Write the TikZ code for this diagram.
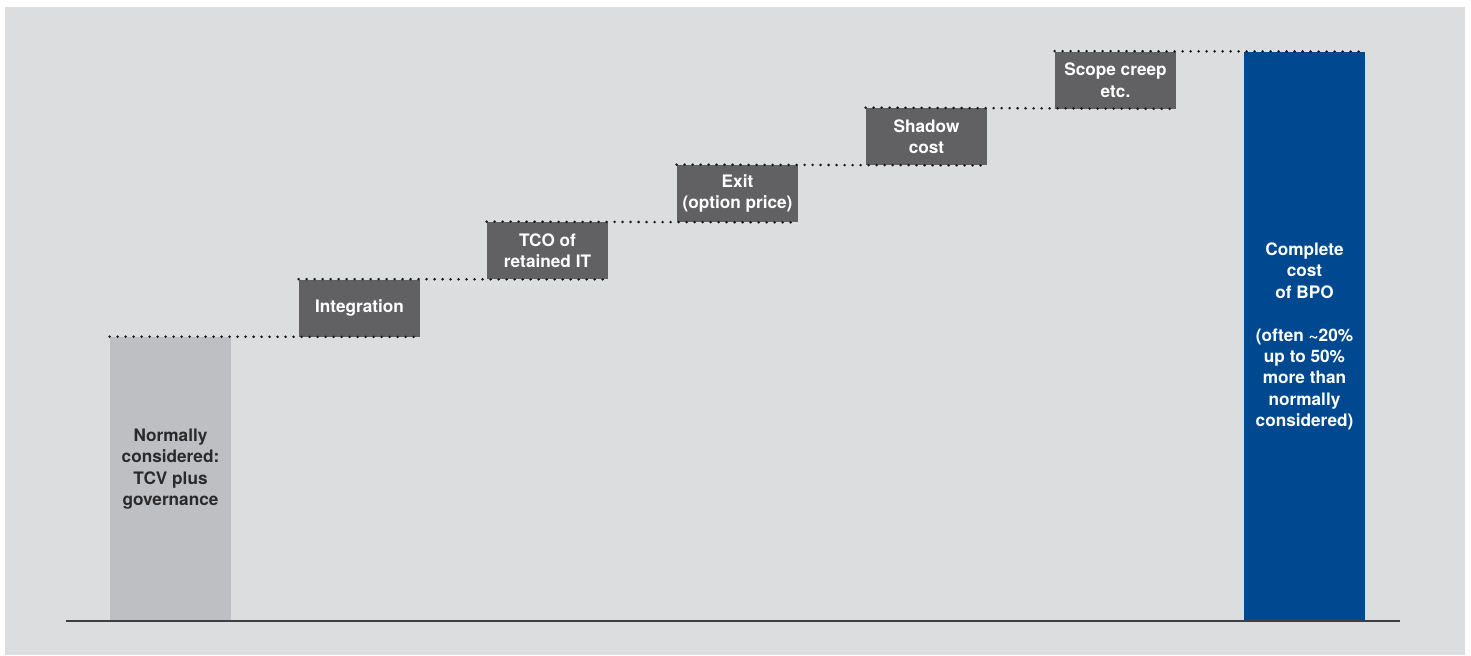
\documentclass[tikz,border=0pt]{standalone}
\usepackage{fontspec}
\setmainfont{TeX Gyre Heros}

\definecolor{panel}{HTML}{DCDDDF}
\definecolor{basegray}{HTML}{BEBFC2}
\definecolor{stepgray}{HTML}{616163}
\definecolor{bpoblue}{HTML}{004990}
\definecolor{inkgray}{HTML}{2A2A2C}

\tikzset{
  barbox/.style={fill=#1,inner sep=0pt,minimum width=60.5pt,align=center,
    font=\fontsize{8.6pt}{10.7pt}\selectfont\bfseries},
  stepbox/.style={barbox=stepgray,minimum height=28.5pt,text=white},
  dotrule/.style={black!90,line width=1.4pt,line cap=round,dash pattern=on 0pt off 4pt}
}

\begin{document}
\begin{tikzpicture}[x=0.5pt,y=-0.5pt]
  \useasboundingbox (0,0) rectangle (1471,655);
  \fill[white] (0,0) rectangle (1471,655);
  \fill[panel] (5,7) rectangle (1465,655);

  % bars
  \node[barbox=basegray,minimum height=142pt] (base) at (170.5,479) {};
  \node[barbox=basegray,text=inkgray] (baselabel) at (170.5,469)
    {Normally\\considered:\\TCV plus\\governance};
  \node[barbox=bpoblue,minimum height=284.5pt,text=white] (bpo) at (1304.5,336.5)
    {Complete\\cost\\of BPO\\[10.7pt](often \textasciitilde20\%\\up to 50\%\\more than\\normally\\considered)};

  % steps
  \node[stepbox] (integ) at (359.5,308) {Integration};
  \node[stepbox] (tco) at (547.5,250.5) {TCO of\\retained IT};
  \node[stepbox] (exit) at (737.5,193.5) {Exit\\(option price)};
  \node[stepbox] (shadow) at (926.5,136.5) {Shadow\\cost};
  \node[stepbox] (scope) at (1115.5,80) {Scope creep\\etc.};

  \coordinate (axisl) at (66,621);
  \coordinate (axisr) at (1400,621);
  \draw[inkgray!90,line width=1pt] (axisl) -- (axisr);

  \draw[dotrule] (base.north west) -- (integ.south east);
  \draw[dotrule] (integ.north west) -- (tco.south east);
  \draw[dotrule] (tco.north west) -- (exit.south east);
  \draw[dotrule] (exit.north west) -- (shadow.south east);
  \draw[dotrule] (shadow.north west) -- (scope.south east);
  \draw[dotrule] (scope.north west) -- (bpo.north east);
\end{tikzpicture}
\end{document}
